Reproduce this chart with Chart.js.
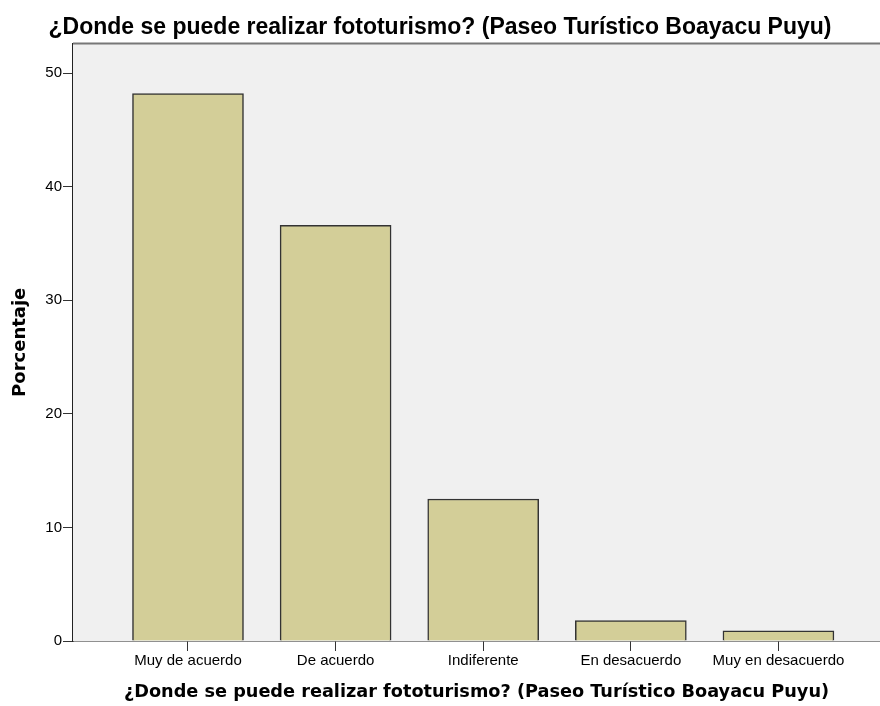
<!DOCTYPE html>
<html>
<head>
<meta charset="utf-8">
<script src="https://cdn.jsdelivr.net/npm/chart.js@4/dist/chart.umd.min.js"></script>
<style>
  html, body { margin: 0; padding: 0; background: #fff; }
  #wrap { width: 880px; height: 706px; }
</style>
</head>
<body>
<div id="wrap"><canvas id="chart" width="880" height="706"></canvas></div>
<script>
const categories = ['Muy de acuerdo', 'De acuerdo', 'Indiferente', 'En desacuerdo', 'Muy en desacuerdo'];
const porcentaje = [48.2, 36.6, 12.5, 1.8, 0.9];
const yTicks = [0, 10, 20, 30, 40, 50];
const titulo = '¿Donde se puede realizar fototurismo? (Paseo Turístico Boayacu Puyu)';

// plot background + top frame line, drawn under the bars
const plotFrame = {
    id: 'plotFrame',
    beforeDatasetsDraw(chart) {
        const { ctx, chartArea: a } = chart;
        ctx.save();
        ctx.fillStyle = '#f0f0f0';
        ctx.fillRect(a.left, a.top, a.right - a.left, a.bottom - a.top);
        ctx.strokeStyle = '#777';
        ctx.lineWidth = 2;
        ctx.beginPath();
        ctx.moveTo(a.left, a.top);
        ctx.lineTo(a.right, a.top);
        ctx.stroke();
        ctx.restore();
    }
};

new Chart(document.getElementById('chart'), {
    type: 'bar',
    data: {
        datasets: [{
            label: 'Porcentaje',
            data: porcentaje.map((v, i) => ({ x: i, y: v })),
            backgroundColor: '#d3ce98',
            borderColor: '#333',
            borderWidth: 1.5,
            barThickness: 111
        }]
    },
    options: {
        responsive: false,
        animation: false,
        plugins: {
            legend: { display: false },
            tooltip: { enabled: false },
            title: {
                display: true,
                text: titulo,
                color: '#000',
                font: { family: 'Liberation Sans, Arial', size: 23, weight: 'bold' },
                padding: { top: 14, bottom: 2 }
            }
        },
        scales: {
            x: {
                type: 'linear',
                offset: false,
                min: -0.779,
                max: 4.688,
                afterFit(scale) { scale.height = 65; },
                afterBuildTicks(scale) {
                    scale.ticks = categories.map((c, i) => ({ value: i }));
                },
                ticks: {
                    callback: (v) => categories[v],
                    color: '#000',
                    font: { family: 'Liberation Sans, Arial', size: 15 },
                    padding: 1,
                    maxRotation: 0,
                    autoSkip: false
                },
                grid: { offset: false, drawOnChartArea: false, drawTicks: true, tickLength: 10, color: '#333' },
                border: { display: true, color: '#222', width: 1.5 },
                title: {
                    display: true,
                    text: titulo,
                    color: '#000',
                    font: { family: 'DejaVu Sans', size: 17.7, weight: 'bold' },
                    padding: { top: 0, bottom: 3 }
                }
            },
            y: {
                min: 0,
                max: 52.6,
                afterFit(scale) { scale.width = 73; },
                afterBuildTicks(scale) {
                    scale.ticks = yTicks.map(v => ({ value: v }));
                },
                ticks: {
                    color: '#000',
                    font: { family: 'Liberation Sans, Arial', size: 15 },
                    padding: 1
                },
                grid: { drawOnChartArea: false, drawTicks: true, tickLength: 10, color: '#333' },
                border: { display: true, color: '#222', width: 1.5 },
                title: {
                    display: true,
                    text: 'Porcentaje',
                    color: '#000',
                    font: { family: 'DejaVu Sans', size: 18, weight: 'bold' },
                    padding: { top: 10, bottom: 0 }
                }
            }
        }
    },
    plugins: [plotFrame]
});
</script>
</body>
</html>
